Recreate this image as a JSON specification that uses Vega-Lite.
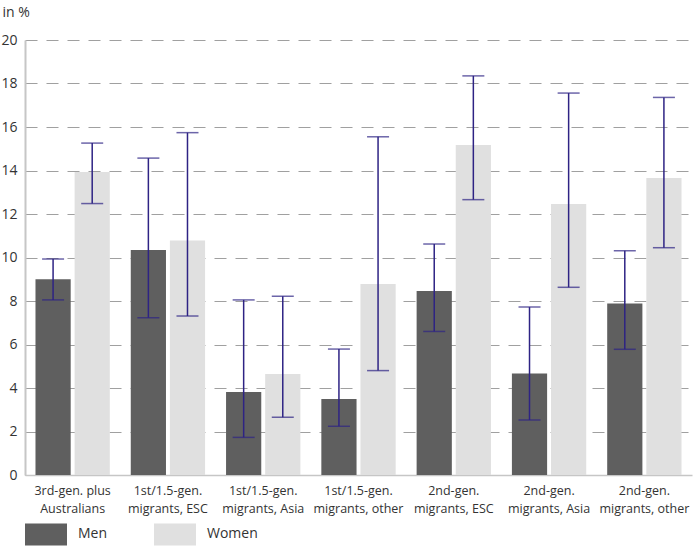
{
  "$schema": "https://vega.github.io/schema/vega-lite/v6.json",
  "width": 667,
  "height": 435,
  "autosize": {"type": "none"},
  "padding": {"left": 25, "top": 40, "right": 4, "bottom": 75},
  "background": "white",
  "config": {
    "font": "Open Sans",
    "view": {"stroke": null}
  },
  "data": {
    "values": [
      {"group": "3rd-gen. plus Australians", "sex": "Men", "value": 9.0, "lo": 8.05, "hi": 9.93},
      {"group": "3rd-gen. plus Australians", "sex": "Women", "value": 13.93, "lo": 12.48, "hi": 15.26},
      {"group": "1st/1.5-gen. migrants, ESC", "sex": "Men", "value": 10.34, "lo": 7.23, "hi": 14.57},
      {"group": "1st/1.5-gen. migrants, ESC", "sex": "Women", "value": 10.78, "lo": 7.31, "hi": 15.74},
      {"group": "1st/1.5-gen. migrants, Asia", "sex": "Men", "value": 3.82, "lo": 1.73, "hi": 8.05},
      {"group": "1st/1.5-gen. migrants, Asia", "sex": "Women", "value": 4.64, "lo": 2.65, "hi": 8.22},
      {"group": "1st/1.5-gen. migrants, other", "sex": "Men", "value": 3.49, "lo": 2.24, "hi": 5.79},
      {"group": "1st/1.5-gen. migrants, other", "sex": "Women", "value": 8.78, "lo": 4.8, "hi": 15.55},
      {"group": "2nd-gen. migrants, ESC", "sex": "Men", "value": 8.46, "lo": 6.6, "hi": 10.62},
      {"group": "2nd-gen. migrants, ESC", "sex": "Women", "value": 15.17, "lo": 12.66, "hi": 18.35},
      {"group": "2nd-gen. migrants, Asia", "sex": "Men", "value": 4.67, "lo": 2.53, "hi": 7.72},
      {"group": "2nd-gen. migrants, Asia", "sex": "Women", "value": 12.46, "lo": 8.63, "hi": 17.56},
      {"group": "2nd-gen. migrants, other", "sex": "Men", "value": 7.88, "lo": 5.78, "hi": 10.31},
      {"group": "2nd-gen. migrants, other", "sex": "Women", "value": 13.66, "lo": 10.45, "hi": 17.36}
    ]
  },
  "encoding": {
    "x": {
      "field": "group",
      "type": "nominal",
      "sort": null,
      "scale": {"paddingInner": 0.22, "paddingOuter": 0.11},
      "axis": {
        "title": null,
        "labelAngle": 0,
        "ticks": false,
        "domainColor": "#c6c6c6",
        "domainWidth": 1.5,
        "labelPadding": 9,
        "labelFontSize": 12.5,
        "labelColor": "#333333",
        "labelBaseline": "top",
        "labelLineHeight": 18,
        "labelLimit": 0,
        "labelExpr": "split(replace(datum.label, regexp(' (?=migrants|Australians)'), '|'), '|')"
      }
    },
    "xOffset": {
      "field": "sex",
      "type": "nominal",
      "sort": ["Men", "Women"],
      "scale": {"paddingInner": 0.1, "paddingOuter": 0}
    }
  },
  "layer": [
    {
      "mark": {"type": "bar"},
      "encoding": {
        "y": {
          "field": "value",
          "type": "quantitative",
          "title": "in %",
          "scale": {"domain": [0, 20], "nice": false},
          "axis": {
            "values": [0, 2, 4, 6, 8, 10, 12, 14, 16, 18, 20],
            "ticks": false,
            "labelPadding": 8,
            "labelFontSize": 14,
            "labelColor": "#333333",
            "domainColor": "#c6c6c6",
            "domainWidth": 2,
            "gridColor": "#a0a0a0",
            "gridDash": [12, 9],
            "gridWidth": 1.2,
            "titleAngle": 0,
            "titleAlign": "left",
            "titleBaseline": "alphabetic",
            "titleX": -23,
            "titleY": -24,
            "titleFontSize": 14,
            "titleFontWeight": "normal",
            "titleColor": "#333333"
          }
        },
        "color": {
          "field": "sex",
          "type": "nominal",
          "scale": {"domain": ["Men", "Women"], "range": ["#5f5f5f", "#e0e0e0"]},
          "legend": {
            "title": null,
            "orient": "none",
            "legendX": 0,
            "legendY": 473,
            "direction": "horizontal",
            "symbolType": "M-1,-0.524H1V0.524H-1Z",
            "symbolSize": 1764,
            "symbolStrokeWidth": 0,
            "symbolOpacity": 1,
            "labelFontSize": 14,
            "labelColor": "#333333",
            "labelOffset": 11,
            "columnPadding": 46,
            "padding": 0
          }
        }
      }
    },
    {
      "mark": {"type": "rule", "color": "#2e2384", "strokeWidth": 1.5},
      "encoding": {
        "y": {"field": "lo", "type": "quantitative", "title": "in %"},
        "y2": {"field": "hi"}
      }
    },
    {
      "mark": {"type": "tick", "color": "#2e2384", "size": 22, "thickness": 1.5, "orient": "horizontal"},
      "encoding": {
        "y": {"field": "lo", "type": "quantitative", "title": "in %"}
      }
    },
    {
      "mark": {"type": "tick", "color": "#2e2384", "size": 22, "thickness": 1.5, "orient": "horizontal"},
      "encoding": {
        "y": {"field": "hi", "type": "quantitative", "title": "in %"}
      }
    }
  ]
}
